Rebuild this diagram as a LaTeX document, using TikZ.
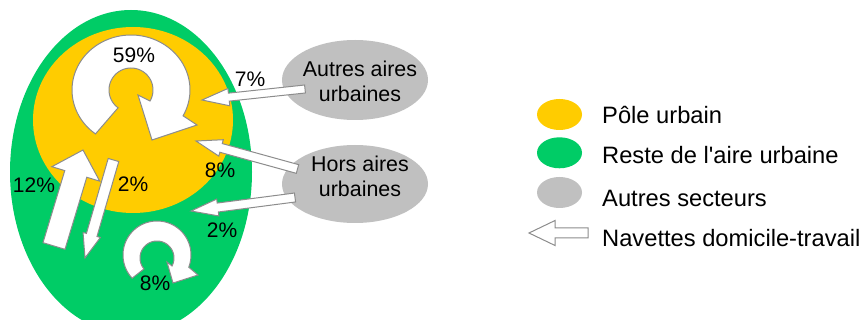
\documentclass[tikz,border=0pt]{standalone}
\usepackage{fontspec}
\setmainfont{Liberation Sans}[Ligatures=TeXOff]
\usetikzlibrary{calc,shapes.geometric}
\definecolor{pyellow}{RGB}{255,204,0}
\definecolor{pgreen}{RGB}{0,204,102}
\definecolor{pgray}{RGB}{192,192,192}
\definecolor{edgegray}{RGB}{140,140,140}
\tikzset{
  flowarrow/.style={fill=white, draw=edgegray, line width=1pt, line join=miter},
  zone/.style={ellipse, inner sep=0pt, outer sep=0pt, draw=none},
  lbl/.style={font=\fontsize{21}{25}\selectfont, inner sep=0pt, anchor=base},
  etext/.style={font=\fontsize{21.4}{25}\selectfont, inner sep=0pt, anchor=base},
  legtext/.style={font=\fontsize{23.7}{28}\selectfont, inner sep=0pt, anchor=base west},
}
% tail, tip, shaft half-width, head half-width, head length
\newcommand{\blockarr}[5]{\draw[flowarrow]
  ($(#1)!#3!90:(#2)$) -- ($(#2)!#5!(#1)!#3!90:(#2)$) -- ($(#2)!#5!(#1)!#4!90:(#2)$) -- (#2)
  -- ($(#2)!#5!(#1)!#4!-90:(#2)$) -- ($(#2)!#5!(#1)!#3!-90:(#2)$) -- ($(#1)!#3!-90:(#2)$) -- cycle;}
\begin{document}
\begin{tikzpicture}[x=1pt,y=-1pt]
\useasboundingbox (0,0) rectangle (864,320);
\clip (0,0) rectangle (864,320);
% zones
\node[zone, fill=pgreen, minimum width=242pt, minimum height=324pt] (reste) at (131,172) {};
\node[zone, fill=pyellow, minimum width=200pt, minimum height=186pt] (pole) at (133,120) {};
\node[zone, fill=pgray, minimum width=146pt, minimum height=80pt] (autres) at (355,80) {};
\node[zone, fill=pgray, minimum width=146pt, minimum height=78pt] (hors) at (355,184) {};
% circular arrows
\draw[flowarrow] plot[domain=127:388, samples=80] ({131+59*cos(\x)},{90+55*sin(\x)})
  -- (197,125) -- (152,140) -- (138,95)
  -- plot[domain=390:126, samples=60] ({131+22*cos(\x)},{90+22*sin(\x)}) -- cycle;
\draw[flowarrow] plot[domain=137:381, samples=60] ({157+34*cos(\x)},{255+34*sin(\x)})
  -- (198,275) -- (173,283) -- (167,262)
  -- plot[domain=388:140, samples=50] ({157+17*cos(\x)},{258+17*sin(\x)}) -- cycle;
% straight arrows
\coordinate (t12) at (54,246);   \coordinate (h12) at (83,150);
\coordinate (t2a) at (113.5,160); \coordinate (h2a) at (85,258);
\coordinate (t7) at (305,89);    \coordinate (h7) at (202,100);
\coordinate (t8) at (297.5,169); \coordinate (h8) at (196,141);
\coordinate (t2b) at (295,197.5); \coordinate (h2b) at (191,211);
\blockarr{t12}{h12}{11.5pt}{25pt}{25pt}
\blockarr{t2a}{h2a}{5.5pt}{9pt}{24pt}
\blockarr{t7}{h7}{4pt}{8.7pt}{27pt}
\blockarr{t8}{h8}{4.5pt}{8.5pt}{26pt}
\blockarr{t2b}{h2b}{4.5pt}{8.5pt}{27pt}
% labels
\node[lbl] (l59) at (134,63) {59\%};
\node[lbl] (l7) at (250,86.5) {7\%};
\node[lbl] (l8a) at (220,178) {8\%};
\node[lbl] (l12) at (34,192.5) {12\%};
\node[lbl] (l2a) at (133,191.5) {2\%};
\node[lbl] (l2b) at (222,238) {2\%};
\node[lbl] (l8b) at (155,290) {8\%};
\node[etext] (ta1) at (360,76.7) {Autres aires};
\node[etext] (ta2) at (360,101.7) {urbaines};
\node[etext] (th1) at (360,171.7) {Hors aires};
\node[etext] (th2) at (360,196.7) {urbaines};
% legend
\node[zone, fill=pyellow, minimum width=45pt, minimum height=31pt] (ly) at (559.5,114.5) {};
\node[zone, fill=pgreen, minimum width=45pt, minimum height=31pt] (lg) at (559.5,152.8) {};
\node[zone, fill=pgray, minimum width=45pt, minimum height=31pt] (lgr) at (559.5,192.5) {};
\coordinate (tl) at (588,233); \coordinate (hl) at (529,233);
\blockarr{tl}{hl}{5pt}{12.5pt}{26pt}
\node[legtext] (x1) at (602,123.3) {Pôle urbain};
\node[legtext] (x2) at (602,163.3) {Reste de l'aire urbaine};
\node[legtext] (x3) at (602,206.7) {Autres secteurs};
\node[legtext] (x4) at (602,246.7) {Navettes domicile-travail};
\end{tikzpicture}
\end{document}
